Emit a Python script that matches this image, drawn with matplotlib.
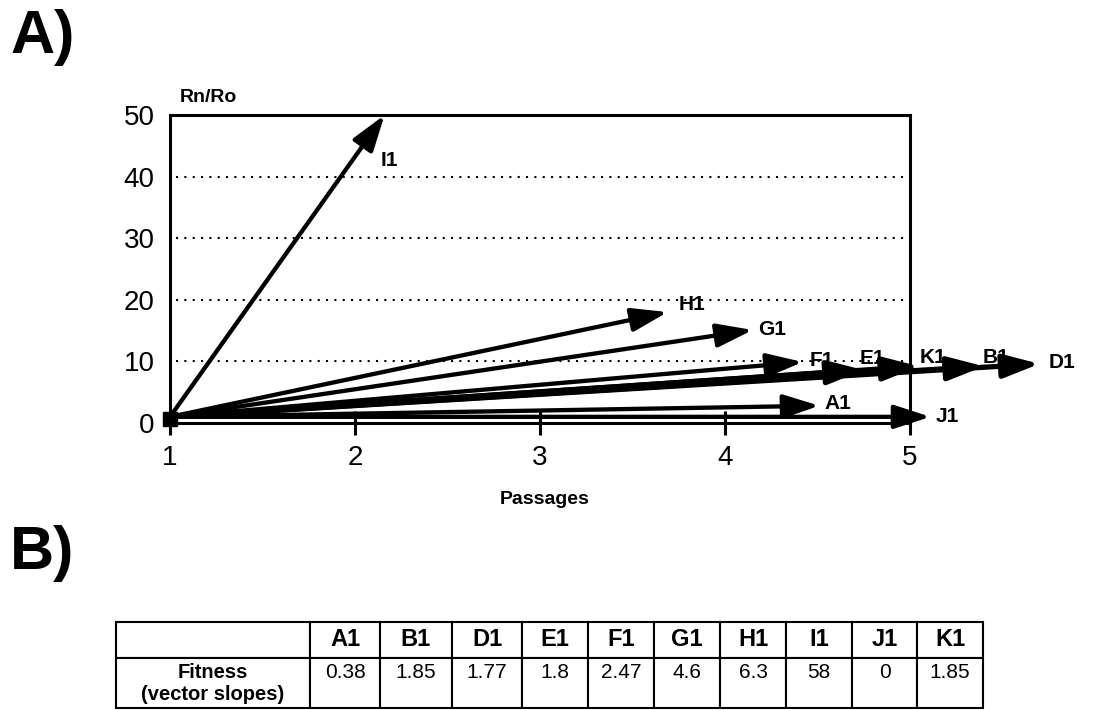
import matplotlib.pyplot as plt

plt.rcParams['font.family'] = ['Liberation Sans', 'DejaVu Sans']

# Vector data (start at passage 1, Rn/Ro = 1)
names = ['A1', 'B1', 'D1', 'E1', 'F1', 'G1', 'H1', 'I1', 'J1', 'K1']
end_x = [4.51, 5.40, 5.70, 4.75, 4.42, 4.15, 3.69, 2.16, 5.11, 5.05]
end_y = [2.8, 9.2, 9.6, 8.6, 9.9, 15.1, 18.0, 50.0, 1.0, 9.2]
# label anchor (left edge, vertical centre)
label_x = [4.54, 5.39, 5.75, 4.73, 4.46, 4.18, 3.75, 2.14, 5.14, 5.05]
label_y = [3.1, 10.7, 9.9, 10.4, 10.2, 15.2, 19.2, 42.6, 1.0, 10.7]
start_x, start_y = 1, 1

# Fitness table
fitness = ['0.38', '1.85', '1.77', '1.8', '2.47', '4.6', '6.3', '58', '0', '1.85']

fig = plt.figure(figsize=(11.11, 7.10), dpi=100)

# Panel A
ax = fig.add_axes([170 / 1111, 1 - 423 / 710, 740 / 1111, 308 / 710])
ax.set_xlim(1, 5)
ax.set_ylim(0, 50)
ax.set_xticks([1, 2, 3, 4, 5])
ax.set_yticks([0, 10, 20, 30, 40, 50])
ax.tick_params(axis='x', direction='inout', length=17, width=2.2, pad=7, labelsize=20)
ax.tick_params(axis='y', length=0, pad=11, labelsize=20)
for s in ax.spines.values():
    s.set_linewidth(2.2)
for yv in [10, 20, 30, 40]:
    ax.plot([1.03, 5], [yv, yv], color='black', lw=1.5, ls=(0, (1, 3)))

for i, n in enumerate(names):
    lw = 3.8 if n in ('E1', 'K1', 'B1', 'D1') else 3.1
    ax.annotate('', xy=(end_x[i], end_y[i]), xytext=(start_x, start_y),
                arrowprops=dict(arrowstyle='-|>,head_length=1.1,head_width=0.36',
                                lw=lw, color='black', shrinkA=0, shrinkB=0,
                                mutation_scale=20),
                annotation_clip=False)
    ax.text(label_x[i], label_y[i], n, fontsize=15, fontweight='bold',
            ha='left', va='center', clip_on=False)
ax.plot([start_x], [start_y - 0.3], marker='s', ms=10, color='black', clip_on=False)

fig.text(180 / 1111, 1 - 97 / 710, 'Rn/Ro', fontsize=14, fontweight='bold',
         ha='left', va='center')
fig.text(545 / 1111, 1 - 500 / 710, 'Passages', fontsize=14, fontweight='bold',
         ha='center', va='center')

fig.text(10 / 1111, 1 - 38 / 710, 'A)', fontsize=44, fontweight='bold',
         ha='left', va='center')
fig.text(10 / 1111, 1 - 554 / 710, 'B)', fontsize=44, fontweight='bold',
         ha='left', va='center')

# Panel B table
tax = fig.add_axes([116 / 1111, 1 - 708 / 710, 867 / 1111, 86 / 710])
tax.axis('off')
rows = [[''] + names, ['Fitness\n(vector slopes)'] + [v + '\n' for v in fitness]]
col_w = [194, 70, 72, 70, 66, 66, 66, 66, 66, 65, 66]
tbl = tax.table(cellText=rows, colWidths=col_w, cellLoc='center', bbox=[0, 0, 1, 1])
tbl.auto_set_font_size(False)
for (r, c), cell in tbl.get_celld().items():
    cell.set_linewidth(1.5)
    cell.set_height(36 if r == 0 else 50)
    t = cell.get_text()
    if r == 0:
        t.set_fontsize(17)
        t.set_fontweight('bold')
    elif c == 0:
        t.set_fontsize(14.5)
        t.set_fontweight('bold')
    else:
        t.set_fontsize(15)

fig.savefig('out.png', dpi=100)
